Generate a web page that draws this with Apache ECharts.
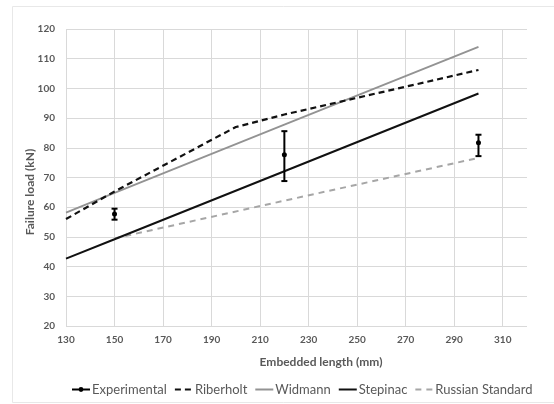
<!DOCTYPE html>
<html>
<head>
<meta charset="utf-8">
<script src="https://cdn.jsdelivr.net/npm/echarts@6/dist/echarts.min.js"></script>
<style>
  html, body { margin: 0; padding: 0; background: #fff; }
  #chart { width: 554px; height: 404px; }
</style>
</head>
<body>
<div id="chart"></div>
<script>
// Embedded length (mm) vs failure load (kN)
const xTicks = [130, 150, 170, 190, 210, 230, 250, 270, 290, 310];
const yTicks = [20, 30, 40, 50, 60, 70, 80, 90, 100, 110, 120];

// Experimental results: mean and error bar ends
const expLength = [150, 220, 300];
const expMean = [57.7, 77.7, 81.7];
const expLow = [55.8, 68.8, 77.2];
const expHigh = [59.5, 85.6, 84.4];

// Design models
const riberholtLength = [130, 150, 200, 220, 300];
const riberholtLoad = [56.0, 65.3, 87.0, 91.2, 106.2];

const widmannLength = [130, 150, 220, 300];
const widmannLoad = [58.2, 64.8, 87.8, 114.0];

const stepinacLength = [130, 150, 220, 300];
const stepinacLoad = [42.7, 49.2, 72.1, 98.3];

const russianLength = [150, 220, 300];
const russianLoad = [49.5, 62.2, 76.6];

const pairs = (xs, ys) => xs.map((x, i) => [x, ys[i]]);

const xMin = xTicks[0];
const xMax = 320;
const tickStep = xTicks[1] - xTicks[0];

const labelColor = '#595959';
const gridColor = '#d9d9d9';
const font = 'Lato, "Open Sans", sans-serif';

const chart = echarts.init(document.getElementById('chart'), null, { renderer: 'canvas' });

// line-only legend entries hide the marker the line icon carries
const plainLine = { itemStyle: { opacity: 0 } };

chart.setOption({
  animation: false,
  backgroundColor: '#ffffff',
  textStyle: { fontFamily: font },
  grid: { left: 66, right: 27, top: 29, bottom: 78, containLabel: false },
  graphic: [
    {
      type: 'rect',
      shape: { x: 12.5, y: 6.5, width: 560, height: 396 },
      style: { fill: 'none', stroke: '#e8e8e8', lineWidth: 1 },
      silent: true, z: -1
    },
    {
      type: 'text',
      x: 321, y: 362,
      style: {
        text: 'Embedded length (mm)', fill: labelColor,
        font: 'bold 12px ' + font, align: 'center', verticalAlign: 'middle'
      }
    },
    {
      type: 'text',
      x: 30, y: 192,
      rotation: Math.PI / 2,
      style: {
        text: 'Failure load (kN)', fill: labelColor,
        font: 'bold 12px ' + font, align: 'center', verticalAlign: 'middle'
      }
    }
  ],
  legend: {
    left: 66, top: 378,
    itemWidth: 18, itemHeight: 6, itemGap: 7,
    textStyle: { color: labelColor, fontSize: 13, fontFamily: font, padding: [0, 0, 0, -3] },
    data: [
      { name: 'Experimental',
        lineStyle: { opacity: 1, width: 2, color: '#000000' },
        itemStyle: { color: '#000000' } },
      Object.assign({ name: 'Riberholt' }, plainLine),
      Object.assign({ name: 'Widmann' }, plainLine),
      Object.assign({ name: 'Stepinac' }, plainLine),
      Object.assign({ name: 'Russian Standard' }, plainLine)
    ]
  },
  xAxis: [
    {
      // data axis in millimetres
      type: 'value', min: xMin, max: xMax, show: false
    },
    {
      // tick/grid axis counted from the first tick
      type: 'value', position: 'bottom',
      min: 0, max: xMax - xMin, interval: tickStep,
      axisLine: { show: false },
      axisTick: { show: false },
      axisLabel: {
        color: labelColor, fontSize: 10, fontWeight: 'bold', margin: 9,
        formatter: v => (xTicks.indexOf(v + xMin) >= 0 ? String(v + xMin) : '')
      },
      splitLine: { show: true, showMinLine: true, showMaxLine: false,
        lineStyle: { color: gridColor, width: 1 } }
    }
  ],
  yAxis: {
    type: 'value', min: yTicks[0], max: yTicks[yTicks.length - 1], interval: yTicks[1] - yTicks[0],
    axisLine: { show: false },
    axisTick: { show: false },
    axisLabel: { color: labelColor, fontSize: 10, fontWeight: 'bold', margin: 11 },
    splitLine: { show: true, lineStyle: { color: gridColor, width: 1 } }
  },
  series: [
    {
      name: 'Russian Standard', type: 'line', xAxisIndex: 0,
      data: pairs(russianLength, russianLoad),
      symbol: 'none', z: 2,
      lineStyle: { color: '#a6a6a6', width: 2, type: [6, 5] },
      itemStyle: { color: '#a6a6a6' }
    },
    {
      name: 'Widmann', type: 'line', xAxisIndex: 0,
      data: pairs(widmannLength, widmannLoad),
      symbol: 'none', z: 3,
      lineStyle: { color: '#939393', width: 1.8 },
      itemStyle: { color: '#939393' }
    },
    {
      name: 'Riberholt', type: 'line', xAxisIndex: 0,
      data: pairs(riberholtLength, riberholtLoad),
      symbol: 'none', z: 4,
      lineStyle: { color: '#111111', width: 2.2, type: [6, 4] },
      itemStyle: { color: '#111111' }
    },
    {
      name: 'Stepinac', type: 'line', xAxisIndex: 0,
      data: pairs(stepinacLength, stepinacLoad),
      symbol: 'none', z: 4,
      lineStyle: { color: '#111111', width: 2 },
      itemStyle: { color: '#111111' }
    },
    {
      name: 'Experimental-error', type: 'custom', xAxisIndex: 0, z: 5,
      data: expLength.map((x, i) => [x, expLow[i], expHigh[i]]),
      encode: { x: 0, y: [1, 2] },
      renderItem: (params, api) => {
        const lo = api.coord([api.value(0), api.value(1)]);
        const hi = api.coord([api.value(0), api.value(2)]);
        const cap = 3;
        const style = { stroke: '#000000', lineWidth: 2 };
        return {
          type: 'group',
          children: [
            { type: 'line', shape: { x1: lo[0], y1: lo[1], x2: hi[0], y2: hi[1] }, style },
            { type: 'line', shape: { x1: lo[0] - cap, y1: lo[1], x2: lo[0] + cap, y2: lo[1] }, style },
            { type: 'line', shape: { x1: hi[0] - cap, y1: hi[1], x2: hi[0] + cap, y2: hi[1] }, style }
          ]
        };
      }
    },
    {
      name: 'Experimental', type: 'line', xAxisIndex: 0, z: 6,
      data: pairs(expLength, expMean),
      symbol: 'circle', symbolSize: 5, showSymbol: true,
      lineStyle: { opacity: 0, color: '#000000', width: 2 },
      itemStyle: { color: '#000000' }
    }
  ]
});
</script>
</body>
</html>
